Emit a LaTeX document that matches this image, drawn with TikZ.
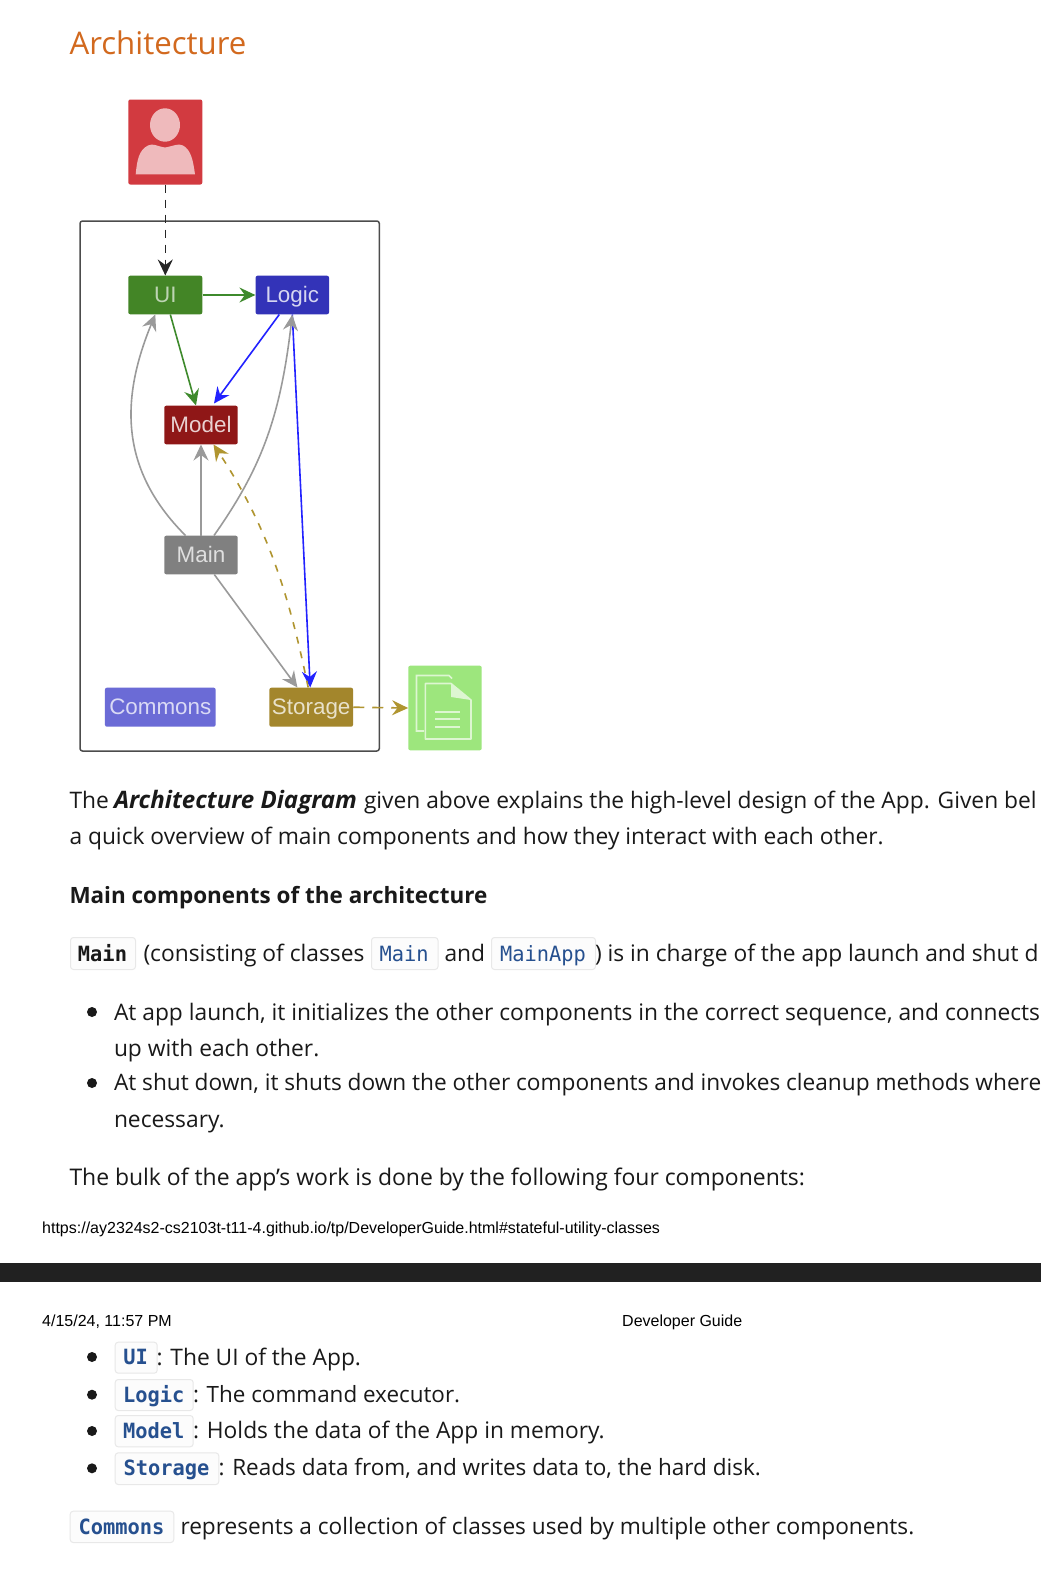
\documentclass[tikz,border=0pt]{standalone}
\usepackage{fontspec}
\setmainfont{Open Sans}
\setmonofont[FakeStretch=0.97]{DejaVu Sans Mono}
\newfontfamily\arialfont{Liberation Sans}
\usetikzlibrary{arrows.meta,calc}
\definecolor{uiC}{HTML}{438526}
\definecolor{logicC}{HTML}{3333B8}
\definecolor{modelC}{HTML}{8F1717}
\definecolor{mainC}{HTML}{808080}
\definecolor{commonsC}{HTML}{6B6BD6}
\definecolor{storageC}{HTML}{A3862C}
\definecolor{docC}{HTML}{9DE67D}
\definecolor{actorC}{HTML}{D23A40}
\definecolor{greenL}{HTML}{3E8A2C}
\definecolor{blueL}{HTML}{2222FF}
\definecolor{grayL}{HTML}{9A9A9A}
\definecolor{goldL}{HTML}{B09530}
\definecolor{headC}{HTML}{D2691E}
\definecolor{codeC}{HTML}{26508F}
\tikzset{
  comp/.style={rounded corners=2pt,inner sep=0pt,text height=18pt,text depth=2.5pt,font=\arialfont\fontsize{22.4}{22}\selectfont},
  tip/.style={-{Stealth[length=16pt,width=15pt,inset=5.5pt]},line width=1.6pt},
  txt/.style={anchor=base west,inner sep=0pt,outer sep=0pt,font=\fontsize{22.77}{27}\selectfont,text=black!90},
  small/.style={anchor=base west,inner sep=0pt,font=\arialfont\fontsize{16}{18}\selectfont,text=black},
  codebox/.style={draw=black!9,fill=black!1,rounded corners=3pt,line width=1pt,inner sep=0pt,
     font=\ttfamily\bfseries\fontsize{21}{21}\selectfont,text=codeC},
  codetxt/.style={anchor=base,inner sep=0pt,font=\ttfamily\bfseries\fontsize{21}{21}\selectfont,text=codeC},
  bul/.style={circle,fill=black!90,minimum size=10pt,inner sep=0pt},
  doclin/.style={draw=white!65!docC,line width=1.6pt},
}
\newcommand{\cbox}[6]{\node[codebox,#6,minimum width=#3-#2,minimum height=#5-#4,anchor=north west] (#1) at (#2,#4) {};}
\begin{document}
\begin{tikzpicture}[x=1pt,y=-1pt]
\useasboundingbox (0,0) rectangle (1041,1571);
\fill[white] (0,0) rectangle (1041,1571);
\node[txt,text=headC,font=\fontsize{31.2}{36}\selectfont] (title) at (69.5,55) {Architecture};
% frame
\draw[black!70,line width=1.5pt,rounded corners=2.5pt] (80,221) rectangle (379.3,751);
% nodes
\node[comp,fill=actorC,minimum width=74pt,minimum height=85pt] (actor) at (165.3,142) {};
\fill[white!65!actorC] (165,125) ellipse (15 and 16.7);
\fill[white!65!actorC] (135.7,174.3) .. controls (137,160) and (139,150) .. (148,145.5)
  .. controls (153,143) and (156,146) .. (165,147.5) .. controls (174,146) and (178,143) .. (183,145.5)
  .. controls (191,150) and (193,160) .. (195,174.3) -- cycle;
\node[comp,fill=uiC,text=white!65!uiC,minimum width=74pt,minimum height=38.6pt] (ui) at (165.3,295) {UI};
\node[comp,fill=logicC,text=white!80!logicC,minimum width=73.4pt,minimum height=38.6pt] (logic) at (292.3,295) {Logic};
\node[comp,fill=modelC,text=white!80!modelC,minimum width=73.4pt,minimum height=38.6pt] (model) at (201,425) {Model};
\node[comp,fill=mainC,text=white!75!mainC,minimum width=73.4pt,minimum height=38.6pt] (main) at (201,555) {Main};
\node[comp,fill=commonsC,text=white!75!commonsC,minimum width=110.7pt,minimum height=39pt] (commons) at (160.3,707.2) {Commons};
\node[comp,fill=storageC,text=white!75!storageC,minimum width=83.7pt,minimum height=39pt] (storage) at (311.2,707.2) {Storage};
\node[comp,fill=docC,minimum width=73.4pt,minimum height=84.6pt] (doc) at (445,708) {};
% doc icon
\draw[doclin] (424,731) -- (416.5,731) -- (416.5,675.5) -- (449,675.5) -- (452,678.5);
\draw[doclin,line join=round] (425.3,683.5) -- (451,683.5) -- (471,700) -- (471,739) -- (425.3,739) -- cycle;
\fill[white!65!docC] (451,683.5) -- (451,697) -- (471,700) -- cycle;
\foreach \yy in {712,719,727} \draw[doclin] (435,\yy) -- (460,\yy);
% connectors
\draw[tip,black!85,dash pattern=on 8pt off 7pt] (actor.south) -- (ui.north);
\draw[tip,greenL] (ui.east) -- (logic.west);
\draw[tip,greenL] ($(ui.south)+(5,0)$) -- ($(model.north)+(-5,0)$);
\draw[tip,blueL] ($(logic.south)+(-13,0)$) -- ($(model.north)+(13,-2)$);
\draw[tip,blueL] (logic.south) -- ($(storage.north)+(-1,0)$);
\draw[tip,grayL] ($(main.north)+(-15.5,0)$) .. controls (120,470) and (120,400) .. ($(ui.south)+(-10,0)$);
\draw[tip,grayL] ($(main.north)+(13,0)$) .. controls (260,470) and (280,420) .. (logic.south);
\draw[tip,grayL] (main.north) -- (model.south);
\draw[tip,grayL] ($(main.south)+(13.3,0)$) -- ($(storage.north)+(-13.8,0)$);
\draw[tip,goldL,dash pattern=on 7pt off 8pt] ($(storage.north)+(-3,0)$) .. controls (290,600) and (270,530) .. ($(model.south)+(12.5,0)$);
\draw[tip,goldL,dash pattern=on 11pt off 8pt] (storage.east) -- (doc.west);
% body text
\node[txt] (p1a) at (69.5,808) {The};
\node[txt,font=\bfseries\itshape\fontsize{24.05}{27}\selectfont] (p1i) at (114,808) {Architecture Diagram};
\node[txt] (p1c) at (364,808) {given above explains the high-level design of the App. Given bel};
\node[txt] (p1b) at (69.5,844) {a quick overview of main components and how they interact with each other.};
\node[txt,font=\bfseries\fontsize{22.45}{27}\selectfont] (p2) at (69.5,903) {Main components of the architecture};
\cbox{cmain}{70}{135}{937}{969}{}
\node[codetxt,text=black!90] (cmaint) at (102.5,961) {Main};
\node[txt] (p3a) at (143.5,961) {(consisting of classes};
\cbox{cmainb}{371}{437.5}{937}{969}{}
\node[codetxt,font=\ttfamily\fontsize{21}{21}\selectfont] (cmainbt) at (404.2,961) {Main};
\node[txt] (p3b) at (444.5,961) {and};
\cbox{cmainapp}{491}{595}{937}{969}{}
\node[codetxt,font=\ttfamily\fontsize{21}{21}\selectfont] (cmainappt) at (543,961) {MainApp};
\node[txt] (p3c) at (595,961) {) is in charge of the app launch and shut d};
\node[bul] (b1) at (92,1012) {};
\node[txt] (p4a) at (114,1020) {At app launch, it initializes the other components in the correct sequence, and connects};
\node[txt] (p4b) at (114,1056) {up with each other.};
\node[bul] (b2) at (92,1083) {};
\node[txt,font=\fontsize{22.65}{27}\selectfont] (p5a) at (114,1090.5) {At shut down, it shuts down the other components and invokes cleanup methods where};
\node[txt] (p5b) at (114,1127) {necessary.};
\node[txt,font=\fontsize{22.93}{27}\selectfont] (p6) at (69.5,1185) {The bulk of the app’s work is done by the following four components:};
\node[small] (url) at (42,1233) {https://ay2324s2-cs2103t-t11-4.github.io/tp/DeveloperGuide.html\#stateful-utility-classes};
\fill[black!87] (0,1263) rectangle (1041,1282);
\node[small] (date) at (42,1326) {4/15/24, 11:57 PM};
\node[small] (dg) at (622,1326) {Developer Guide};
\foreach \nm/\yy in {b3/1357,b4/1394.7,b5/1431,b6/1468.3} \node[bul] (\nm) at (92,\yy) {};
\cbox{cui}{114.7}{156.7}{1341.7}{1372.7}{}
\node[codetxt] (cuit) at (135.7,1364) {UI};
\node[txt] (l1) at (156.5,1365) {: The UI of the App.};
\cbox{clogic}{114.7}{192.7}{1379}{1410}{}
\node[codetxt] (clogict) at (153.7,1402) {Logic};
\node[txt,font=\fontsize{22.43}{27}\selectfont] (l2) at (193,1402.7) {: The command executor.};
\cbox{cmodel}{114.7}{192.7}{1415}{1446.3}{}
\node[codetxt] (cmodelt) at (153.7,1438) {Model};
\node[txt] (l3) at (193,1438.7) {: Holds the data of the App in memory.};
\cbox{cstorage}{114.7}{218.3}{1452.3}{1484}{}
\node[codetxt] (cstoraget) at (166.5,1475) {Storage};
\node[txt,font=\fontsize{22.52}{27}\selectfont] (l4) at (218.5,1475.7) {: Reads data from, and writes data to, the hard disk.};
\cbox{ccommons}{69.7}{173.3}{1510.7}{1542}{}
\node[codetxt] (ccommonst) at (121.5,1534) {Commons};
\node[txt,font=\fontsize{22.65}{27}\selectfont] (l5) at (180.5,1534.7) {represents a collection of classes used by multiple other components.};
\end{tikzpicture}
\end{document}
